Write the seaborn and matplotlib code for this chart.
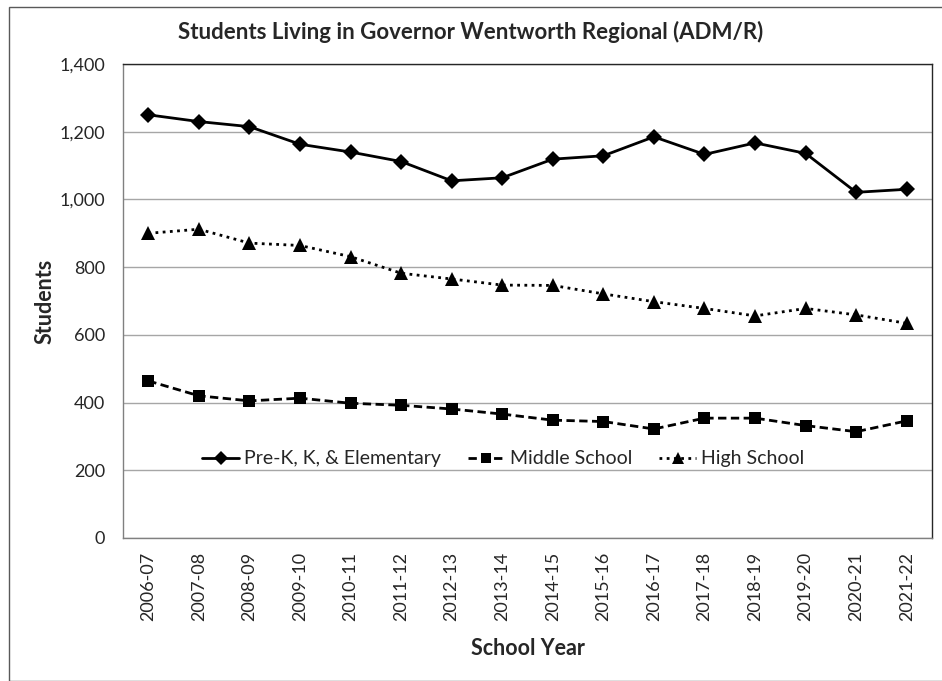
# Students living in Governor Wentworth Regional - enrollment by level
import pandas as pd
import matplotlib.pyplot as plt
import seaborn as sns
from matplotlib.patches import Rectangle

school_years = ["2006-07", "2007-08", "2008-09", "2009-10", "2010-11", "2011-12",
                "2012-13", "2013-14", "2014-15", "2015-16", "2016-17", "2017-18",
                "2018-19", "2019-20", "2020-21", "2021-22"]
elementary = [1250, 1230, 1215, 1163, 1140, 1112, 1055, 1064, 1119, 1129,
              1185, 1133, 1167, 1136, 1021, 1030]
middle = [464, 420, 405, 413, 398, 392, 381, 366, 348, 344, 322, 354, 354,
          332, 314, 346]
high = [900, 912, 871, 864, 831, 782, 765, 747, 746, 721, 698, 678, 656,
        678, 659, 634]
series_names = ["Pre-K, K, & Elementary", "Middle School", "High School"]

sns.set_theme(style="white")
plt.rcParams['font.family'] = ['Lato', 'DejaVu Sans']

# long form table for seaborn
df = pd.DataFrame({
    "School Year": school_years * 3,
    "Students": elementary + middle + high,
    "Level": [series_names[0]] * 16 + [series_names[1]] * 16 + [series_names[2]] * 16,
})

fig = plt.figure(figsize=(9.42, 6.81), dpi=100)
ax = fig.add_axes([0.1306, 0.2100, 0.8588, 0.6960])

sns.lineplot(
    data=df, x="School Year", y="Students", hue="Level", style="Level",
    palette=["black"] * 3,
    markers={series_names[0]: "D", series_names[1]: "s", series_names[2]: "^"},
    dashes={series_names[0]: "", series_names[1]: (3, 1.6), series_names[2]: (1, 1.6)},
    linewidth=2.0, markersize=8, markeredgewidth=0,
    sort=False, ax=ax,
)
# bigger triangles, like the original
for line in ax.lines[2:3]:
    line.set_markersize(10)

ax.set_xlim(-0.5, len(school_years) - 0.5)
ax.set_ylim(0, 1400)
ax.set_yticks(range(0, 1401, 200))
ax.set_yticklabels([f"{v:,}" for v in range(0, 1401, 200)], fontsize=13)
ax.set_xticks(range(len(school_years)))
ax.set_xticklabels(school_years, rotation=90, fontsize=13)
ax.tick_params(axis="y", length=0, pad=13)
ax.tick_params(axis="x", length=0, pad=10)

ax.yaxis.grid(True, color="#a6a6a6", linewidth=1.0)
ax.set_axisbelow(True)
for side in ["left", "bottom"]:
    ax.spines[side].set_color("#808080")
for side in ["top", "right"]:
    ax.spines[side].set_color("#262626")
for s in ax.spines.values():
    s.set_linewidth(1.0)

ax.set_xlabel("School Year", fontsize=15.5, fontweight="bold", labelpad=12)
ax.set_ylabel("Students", fontsize=15.5, fontweight="bold", labelpad=3)
fig.text(0.5, 1 - 32 / 681, "Students Living in Governor Wentworth Regional (ADM/R)",
         ha="center", va="center", fontsize=16, fontweight="bold")

leg = ax.legend(loc="center", bbox_to_anchor=(0.470, 0.167), ncol=3, frameon=False,
                fontsize=14, handlelength=1.9, columnspacing=1.4, handletextpad=0.25)
for h, ms in zip(leg.legend_handles, [7, 7, 9]):
    h.set_markersize(ms)

# outer chart border
fig.patches.append(Rectangle((9 / 942, 0), 2, 1 - 7 / 681, transform=fig.transFigure,
                             fill=False, edgecolor="#595959", linewidth=1.0))

fig.savefig("out.png", dpi=100)
